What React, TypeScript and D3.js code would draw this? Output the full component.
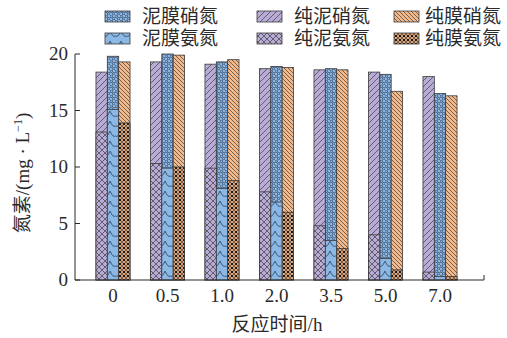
import React from "react";
import * as d3 from "d3";

// Reaction time categories (h)
const categories = ["0", "0.5", "1.0", "2.0", "3.5", "5.0", "7.0"];
// Treatments, in bar order within each group
const treatments = ["纯泥", "泥膜", "纯膜"];

// Nitrate nitrogen (mg/L)
const nitrateChunNi = [18.4, 19.3, 19.1, 18.7, 18.6, 18.4, 18.0];
const nitrateNiMo = [19.8, 20.0, 19.3, 18.9, 18.7, 18.2, 16.5];
const nitrateChunMo = [19.3, 19.9, 19.5, 18.8, 18.6, 16.7, 16.3];

// Ammonia nitrogen (mg/L)
const ammoniaChunNi = [13.1, 10.3, 9.9, 7.8, 4.8, 4.0, 0.7];
const ammoniaNiMo = [15.1, 9.9, 8.1, 6.9, 3.5, 1.9, 0.3];
const ammoniaChunMo = [13.9, 10.0, 8.8, 6.0, 2.8, 0.9, 0.3];

const yTicks = [0, 5, 10, 15, 20];

const nitrateSeries = [
  { treatment: "纯泥", values: nitrateChunNi, fill: "url(#pNitrate)" },
  { treatment: "泥膜", values: nitrateNiMo, fill: "url(#bNitrate)" },
  { treatment: "纯膜", values: nitrateChunMo, fill: "url(#oNitrate)" },
];
const ammoniaSeries = [
  { treatment: "纯泥", values: ammoniaChunNi, fill: "url(#pAmmonia)" },
  { treatment: "泥膜", values: ammoniaNiMo, fill: "url(#bAmmonia)" },
  { treatment: "纯膜", values: ammoniaChunMo, fill: "url(#oAmmonia)" },
];

const legendItems = [
  { label: "泥膜硝氮", fill: "url(#bNitrate)", col: 0, row: 0 },
  { label: "纯泥硝氮", fill: "url(#pNitrate)", col: 1, row: 0 },
  { label: "纯膜硝氮", fill: "url(#oNitrate)", col: 2, row: 0 },
  { label: "泥膜氨氮", fill: "url(#bAmmonia)", col: 0, row: 1 },
  { label: "纯泥氨氮", fill: "url(#pAmmonia)", col: 1, row: 1 },
  { label: "纯膜氨氮", fill: "url(#oAmmonia)", col: 2, row: 1 },
];

const PURPLE = "#b9abd8";
const BLUE = "#8cb8e6";
const ORANGE = "#f4b98b";
const INK = "#2a2a2a";
const FONT = "'Liberation Serif', 'Noto Sans CJK SC', serif";

export default function App() {
  const width = 507;
  const height = 338;
  const axisX = 75;
  const axisRight = 484;

  const y = d3.scaleLinear().domain([0, 20]).range([280, 54]);
  const x = d3
    .scaleBand<string>()
    .domain(categories)
    .range([85.75, 467.25])
    .paddingInner(0.375)
    .paddingOuter(0.1875);
  const xs = d3.scaleBand<string>().domain(treatments).range([0, x.bandwidth()]);

  const legendCols = [105, 257, 394];
  const legendRows = [11, 33];

  const bars = (series: typeof nitrateSeries, key: string) =>
    series.map((s) =>
      categories.map((c, i) => (
        <rect
          key={`${key}-${s.treatment}-${c}`}
          x={(x(c) as number) + (xs(s.treatment) as number)}
          y={y(s.values[i])}
          width={xs.bandwidth()}
          height={y(0) - y(s.values[i])}
          fill={s.fill}
          stroke="#3a3a3a"
          strokeWidth={0.8}
        />
      ))
    );

  return (
    <svg
      width={width}
      height={height}
      style={{ position: "absolute", left: 0, top: 0, background: "#fff" }}
      fontFamily={FONT}
    >
      <defs>
        <pattern id="pNitrate" patternUnits="userSpaceOnUse" width={6} height={6}>
          <rect width={6} height={6} fill={PURPLE} />
          <path d="M0,6 L6,0 M-1,1 L1,-1 M5,7 L7,5" stroke="#4a4a4a" strokeWidth={0.8} />
        </pattern>
        <pattern id="pAmmonia" patternUnits="userSpaceOnUse" width={6} height={6}>
          <rect width={6} height={6} fill={PURPLE} />
          <path d="M0,0 L6,6 M0,6 L6,0" stroke="#4a4a4a" strokeWidth={0.8} />
        </pattern>
        <pattern id="oNitrate" patternUnits="userSpaceOnUse" width={4} height={4}>
          <rect width={4} height={4} fill={ORANGE} />
          <path d="M0,0 L4,4 M-1,3 L1,5 M3,-1 L5,1" stroke="#3a3a3a" strokeWidth={0.7} />
        </pattern>
        <pattern id="oAmmonia" patternUnits="userSpaceOnUse" width={4} height={4}>
          <rect width={4} height={4} fill={ORANGE} />
          <circle cx={0} cy={0} r={1.3} fill="#1a1a1a" />
          <circle cx={4} cy={0} r={1.3} fill="#1a1a1a" />
          <circle cx={0} cy={4} r={1.3} fill="#1a1a1a" />
          <circle cx={4} cy={4} r={1.3} fill="#1a1a1a" />
          <circle cx={2} cy={2} r={0.9} fill="#4a3020" />
        </pattern>
        <pattern id="bNitrate" patternUnits="userSpaceOnUse" width={5} height={5}>
          <rect width={5} height={5} fill={BLUE} />
          <circle cx={1.25} cy={1.25} r={1.3} fill="none" stroke="#2a3a50" strokeWidth={0.7} />
          <circle cx={3.75} cy={3.75} r={1.3} fill="none" stroke="#2a3a50" strokeWidth={0.7} />
        </pattern>
        <pattern id="bAmmonia" patternUnits="userSpaceOnUse" width={11} height={10}>
          <rect width={11} height={10} fill={BLUE} />
          <path d="M0,1 Q3,8 5.5,6 Q8,8 11,1" fill="none" stroke="#2a3a50" strokeWidth={0.8} />
        </pattern>
      </defs>

      {/* nitrate bars behind, ammonia bars in front */}
      {bars(nitrateSeries, "n")}
      {bars(ammoniaSeries, "a")}

      {/* axes */}
      <line x1={axisX} x2={axisX} y1={y(0)} y2={y(20)} stroke={INK} strokeWidth={1} />
      <line x1={axisX} x2={axisRight} y1={y(0)} y2={y(0)} stroke={INK} strokeWidth={1} />
      <line x1={axisRight} x2={axisRight} y1={y(0)} y2={y(0) - 5} stroke={INK} strokeWidth={1} />
      {yTicks.map((t) => (
        <g key={`yt-${t}`}>
          <line x1={axisX} x2={axisX + 5} y1={y(t)} y2={y(t)} stroke={INK} strokeWidth={1} />
          <text x={axisX - 7} y={y(t)} dy="0.34em" textAnchor="end" fontSize={19} fill={INK}>
            {t}
          </text>
        </g>
      ))}
      {categories.map((c) => (
        <text
          key={`xt-${c}`}
          x={(x(c) as number) + x.bandwidth() / 2}
          y={302}
          textAnchor="middle"
          fontSize={19}
          fill={INK}
        >
          {c}
        </text>
      ))}
      <text x={277} y={331} textAnchor="middle" fontSize={19} fill={INK}>
        反应时间/h
      </text>
      <text
        transform="translate(29,173) rotate(-90)"
        textAnchor="middle"
        fontSize={19}
        fill={INK}
      >
        氮素/(mg · L
        <tspan dy={-7} fontSize={12}>
          −1
        </tspan>
        <tspan dy={7}>)</tspan>
      </text>

      {/* legend */}
      {legendItems.map((d) => (
        <g key={d.label}>
          <rect
            x={legendCols[d.col]}
            y={legendRows[d.row]}
            width={25}
            height={11}
            fill={d.fill}
            stroke="#3a3a3a"
            strokeWidth={0.8}
          />
          <text
            x={legendCols[d.col] + (d.col === 2 ? 31 : 37)}
            y={legendRows[d.row] + 5.5}
            dy="0.36em"
            fontSize={19}
            fill={INK}
          >
            {d.label}
          </text>
        </g>
      ))}
    </svg>
  );
}
